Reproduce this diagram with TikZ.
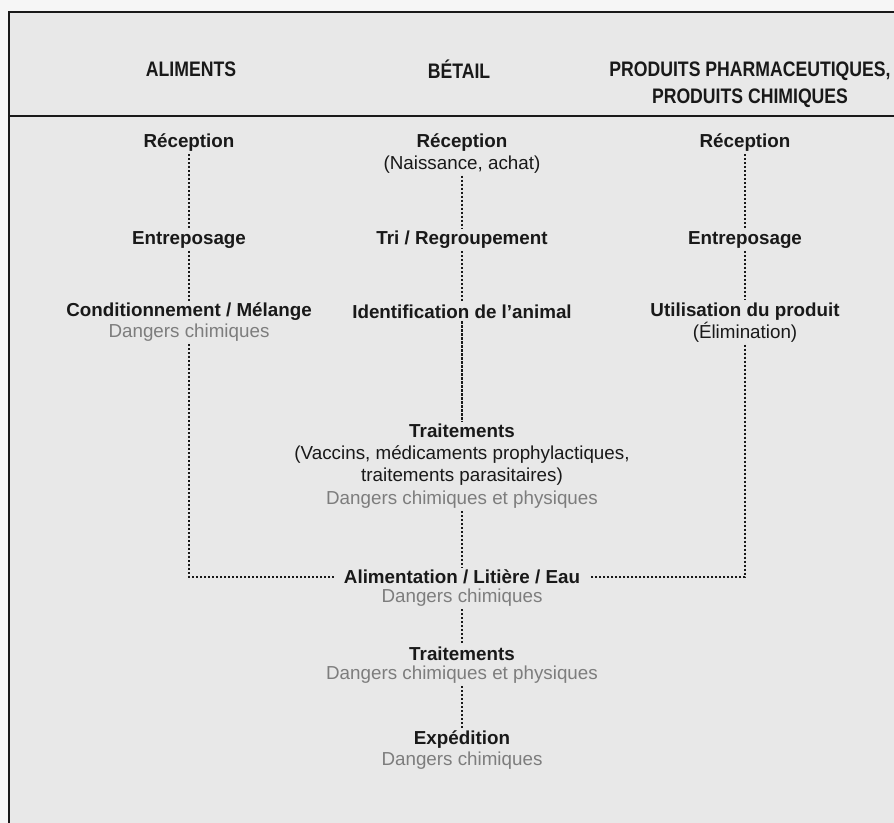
\documentclass[tikz,border=0pt]{standalone}
\usepackage{fontspec}
\setmainfont{Liberation Sans}
\newfontfamily\headfont{Liberation Sans}[FakeStretch=0.84]
\usepackage{tikz}

\definecolor{fond}{RGB}{232,232,232}
\definecolor{marge}{RGB}{246,246,246}
\definecolor{encre}{RGB}{25,25,25}
\definecolor{danger}{RGB}{125,125,125}

\begin{document}
\begin{tikzpicture}[x=0.5pt,y=-0.5pt,
	etape/.style={font=\fontsize{9.4}{11}\selectfont\bfseries,text=encre,inner sep=1pt,align=center},
	note/.style={font=\fontsize{9.4}{11}\selectfont,text=danger,inner sep=1pt},
	titre/.style={font=\headfont\fontsize{10.5}{13.5}\selectfont\bfseries,text=encre,align=center},
	lien/.style={dash pattern=on 1.1pt off 0.9pt,line width=1.2pt,draw=encre}]
	\useasboundingbox (0,0) rectangle (894,823);
	\fill[marge] (0,0) rectangle (894,823);
	\fill[fond] (9,12) rectangle (894,823);
	% cadre et ligne d'en-tete
	\draw[line width=1.2pt,encre] (894,12) -- (9,12) -- (9,823);
	\draw[line width=1.2pt,encre] (9,116) -- (894,116);
	\draw
		(191,69)   node(aliments) [titre] {ALIMENTS}
		(459,69)   node(betail)   [titre] {BÉTAIL}
		(750,84.5) node(produits) [titre] {PRODUITS PHARMACEUTIQUES,\\PRODUITS CHIMIQUES};
	% colonne aliments
	\draw
		(189,143) node(recepA) [etape] {Réception}
		(189,240) node(entreA) [etape] {Entreposage}
		(189,312) node(condA)  [etape] {Conditionnement / Mélange}
		(189,333) node(dangA)  [note]  {Dangers chimiques};
	% colonne betail
	\draw
		(462,153.5) node(recepB)      [etape] {Réception\\{\mdseries (Naissance, achat)}}
		(462,240)   node(triB)        [etape] {Tri / Regroupement}
		(462,312)   node(identB)      [etape] {Identification de l'animal}
		(462,455)   node(traitB)      [etape] {Traitements\\{\mdseries (Vaccins, médicaments prophylactiques,}\\{\mdseries traitements parasitaires)}}
		(462,500)   node(dangTraitB)  [note]  {Dangers chimiques et physiques}
		(462,577)   node(alimB)       [etape] {Alimentation / Litière / Eau}
		(462,598)   node(dangAlimB)   [note]  {Dangers chimiques}
		(462,654)   node(trait2B)     [etape] {Traitements}
		(462,675)   node(dangTrait2B) [note]  {Dangers chimiques et physiques}
		(462,740)   node(expB)        [etape] {Expédition}
		(462,761)   node(dangExpB)    [note]  {Dangers chimiques};
	% colonne produits
	\draw
		(745,143)   node(recepC) [etape] {Réception}
		(745,240)   node(entreC) [etape] {Entreposage}
		(745,322.5) node(utilC)  [etape] {Utilisation du produit\\{\mdseries (Élimination)}};
	\draw [lien](recepA) to (entreA);
	\draw [lien](entreA) to (condA);
	\draw [lien,shorten >=4pt](dangA) |- (alimB);
	\draw [lien](recepB) to (triB);
	\draw [lien](triB) to (identB);
	\draw [lien](identB) to (traitB);
	\draw [lien](dangTraitB) to (alimB);
	\draw [lien](dangAlimB) to (trait2B);
	\draw [lien](dangTrait2B) to (expB);
	\draw [lien](recepC) to (entreC);
	\draw [lien](entreC) to (utilC);
	\draw [lien,shorten >=4pt](utilC) |- (alimB);
\end{tikzpicture}
\end{document}
